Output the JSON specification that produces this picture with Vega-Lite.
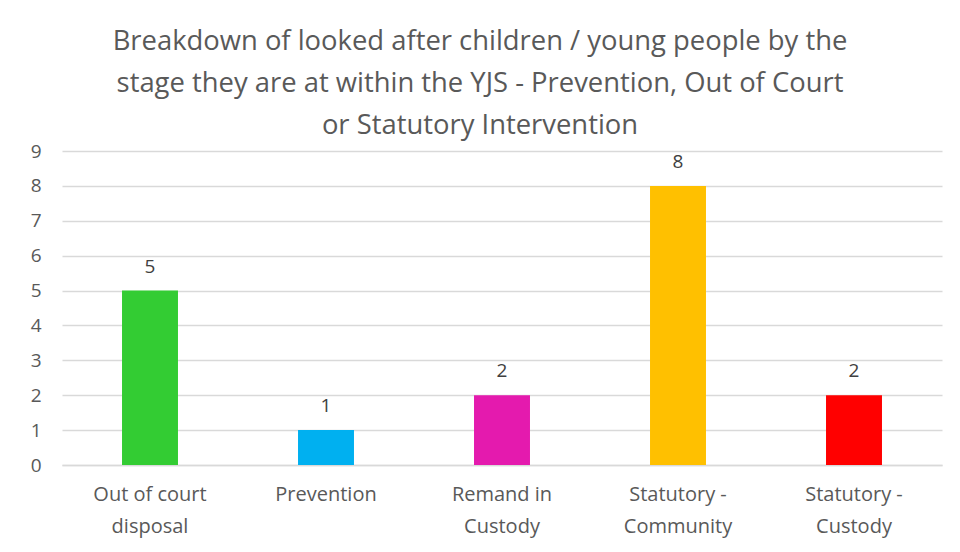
{
  "$schema": "https://vega.github.io/schema/vega-lite/v6.json",
  "width": 880,
  "height": 314,
  "autosize": {"type": "none"},
  "padding": {"left": 62, "top": 151, "right": 18, "bottom": 87},
  "background": "white",
  "config": {
    "font": "Open Sans",
    "view": {"stroke": null}
  },
  "title": {
    "text": ["Breakdown of looked after children / young people by the", "stage they are at within the YJS - Prevention, Out of Court", "or Statutory Intervention"],
    "fontSize": 27.4,
    "fontWeight": "normal",
    "color": "#595959",
    "lineHeight": 42,
    "anchor": "middle",
    "dx": -22,
    "offset": 3
  },
  "data": {
    "values": [
      {"stage": "Out of court disposal", "count": 5, "color": "#33CC33"},
      {"stage": "Prevention", "count": 1, "color": "#00B0F0"},
      {"stage": "Remand in Custody", "count": 2, "color": "#E41AAE"},
      {"stage": "Statutory - Community", "count": 8, "color": "#FFC000"},
      {"stage": "Statutory - Custody", "count": 2, "color": "#FF0000"}
    ]
  },
  "encoding": {
    "x": {
      "field": "stage",
      "type": "nominal",
      "sort": null,
      "scale": {"paddingInner": 0.682, "paddingOuter": 0.341},
      "axis": {
        "title": null,
        "labelAngle": 0,
        "labelFontSize": 20,
        "labelColor": "#595959",
        "labelExpr": "datum.label == 'Out of court disposal' ? ['Out of court', 'disposal'] : datum.label == 'Remand in Custody' ? ['Remand in', 'Custody'] : datum.label == 'Statutory - Community' ? ['Statutory -', 'Community'] : datum.label == 'Statutory - Custody' ? ['Statutory -', 'Custody'] : datum.label",
        "labelLineHeight": 32,
        "labelPadding": 19,
        "ticks": false,
        "domain": true,
        "domainColor": "#D9D9D9",
        "domainWidth": 1.5,
        "grid": false
      }
    },
    "y": {
      "field": "count",
      "type": "quantitative",
      "scale": {"domain": [0, 9]},
      "axis": {
        "title": null,
        "values": [0, 1, 2, 3, 4, 5, 6, 7, 8, 9],
        "labelFontSize": 19,
        "labelColor": "#595959",
        "labelPadding": 21,
        "ticks": false,
        "domain": false,
        "grid": true,
        "gridColor": "#D9D9D9",
        "gridWidth": 1.5
      }
    }
  },
  "layer": [
    {
      "mark": {"type": "bar"},
      "encoding": {
        "color": {"field": "color", "type": "nominal", "scale": null}
      }
    },
    {
      "mark": {"type": "text", "dy": -24, "fontSize": 19, "color": "#404040"},
      "encoding": {
        "text": {"field": "count", "type": "quantitative"}
      }
    }
  ]
}
